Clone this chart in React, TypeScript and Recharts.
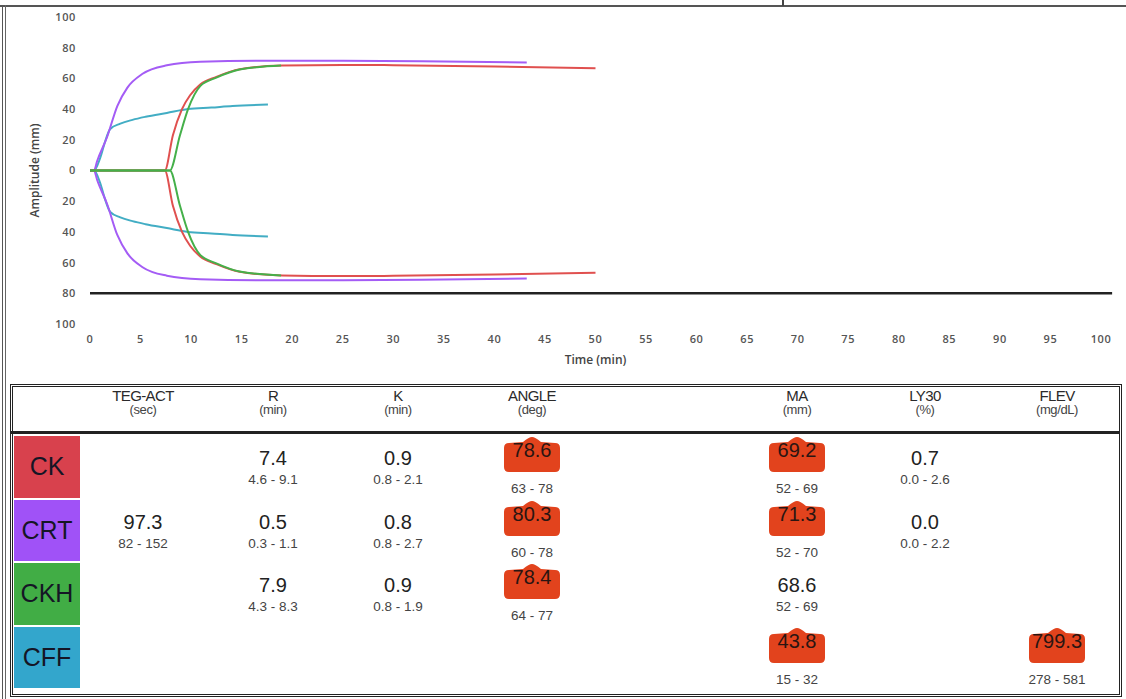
import React from 'react';
import { LineChart, Line, XAxis, YAxis, ReferenceLine } from 'recharts';

// TEG tracings: time (min) and amplitude (mm), upper half; the lower half mirrors it
const ckTime = [0, 7.4, 8.2, 9.1, 9.9, 10.9, 12.5, 14.8, 19, 25, 30, 40, 50];
const ckAmp = [0, 0, 23, 40, 49, 56, 61, 66, 68.4, 68.8, 68.6, 67.8, 66.6];

const ckhTime = [0, 7.9, 8.9, 9.7, 10.9, 12.5, 14.8, 18.9];
const ckhAmp = [0, 0, 23, 40, 55, 60.5, 65.8, 68.4];

const crtTime = [0, 0.4, 0.7, 1.7, 2.7, 3.7, 5.2, 7.6, 10.9, 17.5, 25, 35, 43.2];
const crtAmp = [0, 0, 6, 22, 42, 54, 63, 68.5, 70.8, 71.5, 71.5, 71, 70.4];

const cffTime = [0, 0.4, 1.0, 1.5, 2.0, 3.0, 4.2, 5.5, 7.6, 9.7, 12, 14.1, 17.6];
const cffAmp = [0, 0, 8, 19, 27, 30.5, 33, 35, 37.5, 40, 41, 42, 43];

const xTicks = [0, 5, 10, 15, 20, 25, 30, 35, 40, 45, 50, 55, 60, 65, 70, 75, 80, 85, 90, 95, 100];
const yTicks = [-100, -80, -60, -40, -20, 0, 20, 40, 60, 80, 100];
const lowLimit = -80;

// results table
const paramNames = ['TEG-ACT', 'R', 'K', 'ANGLE', 'MA', 'LY30', 'FLEV'];
const paramUnits = ['(sec)', '(min)', '(min)', '(deg)', '(mm)', '(%)', '(mg/dL)'];
const assayNames = ['CK', 'CRT', 'CKH', 'CFF'];
const assayValues = [
  [null, '7.4', '0.9', '78.6', '69.2', '0.7', null],
  ['97.3', '0.5', '0.8', '80.3', '71.3', '0.0', null],
  [null, '7.9', '0.9', '78.4', '68.6', null, null],
  [null, null, null, null, '43.8', null, '799.3'],
];
const assayRanges = [
  [null, '4.6 - 9.1', '0.8 - 2.1', '63 - 78', '52 - 69', '0.0 - 2.6', null],
  ['82 - 152', '0.3 - 1.1', '0.8 - 2.7', '60 - 78', '52 - 70', '0.0 - 2.2', null],
  [null, '4.3 - 8.3', '0.8 - 1.9', '64 - 77', '52 - 69', null, null],
  [null, null, null, null, '15 - 32', null, '278 - 581'],
];

const assayColors: Record<string, string> = { CK: '#d8414d', CRT: '#a052f7', CKH: '#41ad45', CFF: '#33a6cc' };
const lineColors: Record<string, string> = { CK: '#e0504f', CRT: '#a45cf5', CKH: '#45b04a', CFF: '#42adc4' };
const colX = [143, 273, 398, 532, 797, 925, 1057];

const toPoints = (time: number[], amp: number[], sign: number) =>
  time.map((t, i) => ({ t, a: sign * amp[i] }));

const traces = [
  { name: 'CFF', time: cffTime, amp: cffAmp },
  { name: 'CRT', time: crtTime, amp: crtAmp },
  { name: 'CK', time: ckTime, amp: ckAmp },
  { name: 'CKH', time: ckhTime, amp: ckhAmp },
];

const outOfRange = (v: string | null, r: string | null) => {
  if (!v || !r) return false;
  const [lo, hi] = r.split(' - ').map(Number);
  const n = Number(v);
  return n < lo || n > hi;
};

const tickFont = { fontSize: 11, fill: '#555', fontWeight: 600, letterSpacing: 0.6, fontFamily: '"Open Sans", sans-serif' };

const Flag: React.FC<{ x: number; y: number; text: string }> = ({ x, y, text }) => (
  <div style={{ position: 'absolute', left: x - 30, top: y, width: 60, height: 36 }}>
    <svg width={60} height={36} style={{ position: 'absolute', left: 0, top: 0 }}>
      <path
        d="M2,11 Q2,6 7,6 L21,5 Q27,0 30,0 Q33,0 39,5 L53,6 Q58,6 58,11 L58,30 Q58,35 53,35 L7,35 Q2,35 2,30 Z"
        fill="#e2431d"
      />
    </svg>
    <div style={{ position: 'absolute', left: 0, width: 60, top: 1, textAlign: 'center', fontSize: 20, lineHeight: '24px', color: '#2a1512' }}>
      {text}
    </div>
  </div>
);

const App: React.FC = () => {
  const rowTop = (i: number) => 436 + i * 63.5;
  return (
    <div style={{ position: 'relative', width: 1126, height: 699, overflow: 'hidden', background: '#fff', fontFamily: '"Liberation Sans", Arial, sans-serif' }}>
      <style>{'body{margin:0}'}</style>
      {/* outer frame */}
      <div style={{ position: 'absolute', left: 0, top: 5, width: 1126, height: 2, background: '#555' }} />
      <div style={{ position: 'absolute', left: 782, top: 0, width: 2, height: 6, background: '#444' }} />
      <div style={{ position: 'absolute', left: 2, top: 5, width: 1, height: 694, background: '#555' }} />
      <div style={{ position: 'absolute', left: 5, top: 5, width: 1, height: 694, background: '#666' }} />

      <div style={{ position: 'absolute', left: 0, top: 0 }}>
        <LineChart width={1126} height={380} margin={{ top: 17, right: 25, left: 30, bottom: 16 }}>
          <XAxis
            dataKey="t"
            type="number"
            domain={[0, 100]}
            ticks={xTicks}
            allowDuplicatedCategory={false}
            axisLine={false}
            tickLine={false}
            tickMargin={5}
            height={40}
            tick={tickFont}
            label={{ value: 'Time (min)', position: 'insideBottom', offset: 0, fontSize: 12, fontWeight: 600, fill: '#444', fontFamily: '"Open Sans", sans-serif' }}
          />
          <YAxis
            type="number"
            domain={[-100, 100]}
            ticks={yTicks}
            axisLine={false}
            tickLine={false}
            tickMargin={8}
            width={60}
            tickFormatter={(v: number) => String(Math.abs(v))}
            tick={tickFont}
            label={{ value: 'Amplitude (mm)', angle: -90, position: 'insideLeft', offset: 5, fontSize: 12, fontWeight: 600, fill: '#444', fontFamily: '"Open Sans", sans-serif', style: { textAnchor: 'middle' } }}
          />
          <ReferenceLine
            segment={[{ x: 0, y: lowLimit }, { x: 101.1, y: lowLimit }]}
            stroke="#222"
            strokeWidth={2.5}
            ifOverflow="visible"
          />
          {traces.flatMap((tr) => [
            <Line
              key={tr.name + '-up'}
              data={toPoints(tr.time, tr.amp, 1)}
              dataKey="a"
              type="monotone"
              stroke={lineColors[tr.name]}
              strokeWidth={2}
              dot={false}
              isAnimationActive={false}
            />,
            <Line
              key={tr.name + '-down'}
              data={toPoints(tr.time, tr.amp, -1)}
              dataKey="a"
              type="monotone"
              stroke={lineColors[tr.name]}
              strokeWidth={2}
              dot={false}
              isAnimationActive={false}
            />,
          ])}
        </LineChart>
      </div>

      {/* results table */}
      <div style={{ position: 'absolute', left: 10, top: 384, width: 1106, height: 307, border: '3px double #222' }} />
      <div style={{ position: 'absolute', left: 11, top: 431, width: 1108, height: 3, background: '#222' }} />
      {paramNames.map((p, j) => (
        <div key={p} style={{ position: 'absolute', left: colX[j] - 50, width: 100, top: 389, textAlign: 'center', color: '#2a2a2a' }}>
          <div style={{ fontSize: 15, lineHeight: '14px', letterSpacing: -0.6 }}>{p}</div>
          <div style={{ fontSize: 13, lineHeight: '13px', letterSpacing: -0.4, color: '#444' }}>{paramUnits[j]}</div>
        </div>
      ))}
      {assayNames.map((a, i) => (
        <React.Fragment key={a}>
          <div
            style={{
              position: 'absolute', left: 14, top: rowTop(i), width: 66, height: 61.5,
              background: assayColors[a], color: '#151525', fontSize: 25,
              display: 'flex', alignItems: 'center', justifyContent: 'center',
            }}
          >
            {a}
          </div>
          {assayValues[i].map((v, j) => {
            const r = assayRanges[i][j];
            if (!v) return null;
            const flagged = outOfRange(v, r);
            return (
              <React.Fragment key={j}>
                {flagged ? (
                  <Flag x={colX[j]} y={rowTop(i) + 1} text={v} />
                ) : (
                  <div style={{ position: 'absolute', left: colX[j] - 50, width: 100, top: rowTop(i) + 10, textAlign: 'center', fontSize: 20, lineHeight: '24px', color: '#222' }}>
                    {v}
                  </div>
                )}
                {r && (
                  <div style={{ position: 'absolute', left: colX[j] - 50, width: 100, top: rowTop(i) + (flagged ? 45 : 36), textAlign: 'center', fontSize: 13.5, lineHeight: '16px', color: '#444' }}>
                    {r}
                  </div>
                )}
              </React.Fragment>
            );
          })}
        </React.Fragment>
      ))}
    </div>
  );
};

export default App;
